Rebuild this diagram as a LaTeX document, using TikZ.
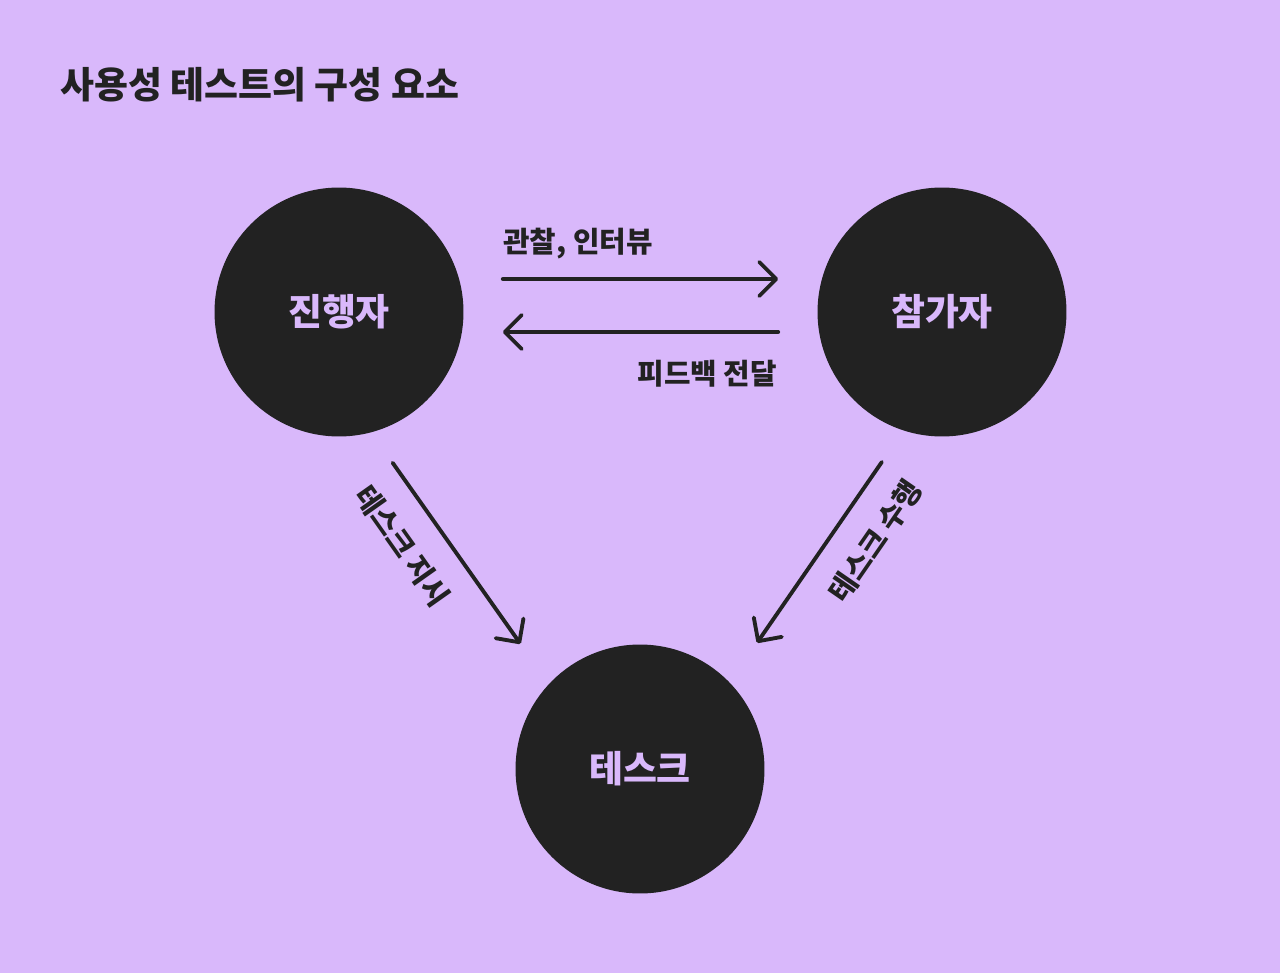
\documentclass[tikz,border=0pt]{standalone}
\usepackage{fontspec}
\setmainfont{Noto Sans CJK KR}
\usetikzlibrary{calc}
\usetikzlibrary{arrows.meta}
\definecolor{lilac}{HTML}{D9B8FB}
\definecolor{ink}{HTML}{222222}

\begin{document}
\begin{tikzpicture} [x=.02cm, y=-.02cm,
  circ/.style={circle, fill=ink, text=lilac, minimum size=4.98cm, inner sep=0, font=\fontsize{21}{25}\selectfont\bfseries},
  lbl/.style={text=ink, inner sep=0, font=\fontsize{16.4}{20}\selectfont\bfseries},
  arr/.style={draw=ink, line width=2.2pt, line cap=round, -{Straight Barb[length=3.4mm, width=6.8mm, round]}}]
\fill[lilac] (0,0) rectangle (1280,973);
\useasboundingbox (0,0) rectangle (1280,973);
\node[anchor=base west, text=ink, inner sep=0, font=\fontsize{21}{25}\selectfont\bfseries] (title) at (60,99) {사용성 테스트의 구성 요소};
% the three parties
\node[circ] (jin) at (339,312) {진행자};
\node[circ] (cham) at (942,312) {참가자};
\node[circ] (task) at (640,769) {테스크};
% between facilitator and participant
\draw[arr, shorten <=.78cm, shorten >=.78cm] ($(jin.east)+(0,-33)$) -- ($(cham.west)+(0,-33)$);
\draw[arr, shorten <=.78cm, shorten >=.78cm] ($(cham.west)+(0,20)$) -- ($(jin.east)+(0,20)$);
\node[lbl, anchor=base west] (obs) at (503,252) {관찰, 인터뷰};
\node[lbl, anchor=base east] (fb) at (777,384) {피드백 전달};
% towards the task
\draw[arr, shorten <=.74cm, shorten >=.98cm] (jin.-75) -- (task.137)
  node[lbl, sloped, pos=.36, below=.48cm] (instr) {테스크 지시};
\draw[arr, shorten <=.76cm, shorten >=.96cm] (cham.-108) -- (task.44)
  node[lbl, sloped, pos=.35, below=.48cm] (perf) {테스크 수행};
\end{tikzpicture}
\end{document}
